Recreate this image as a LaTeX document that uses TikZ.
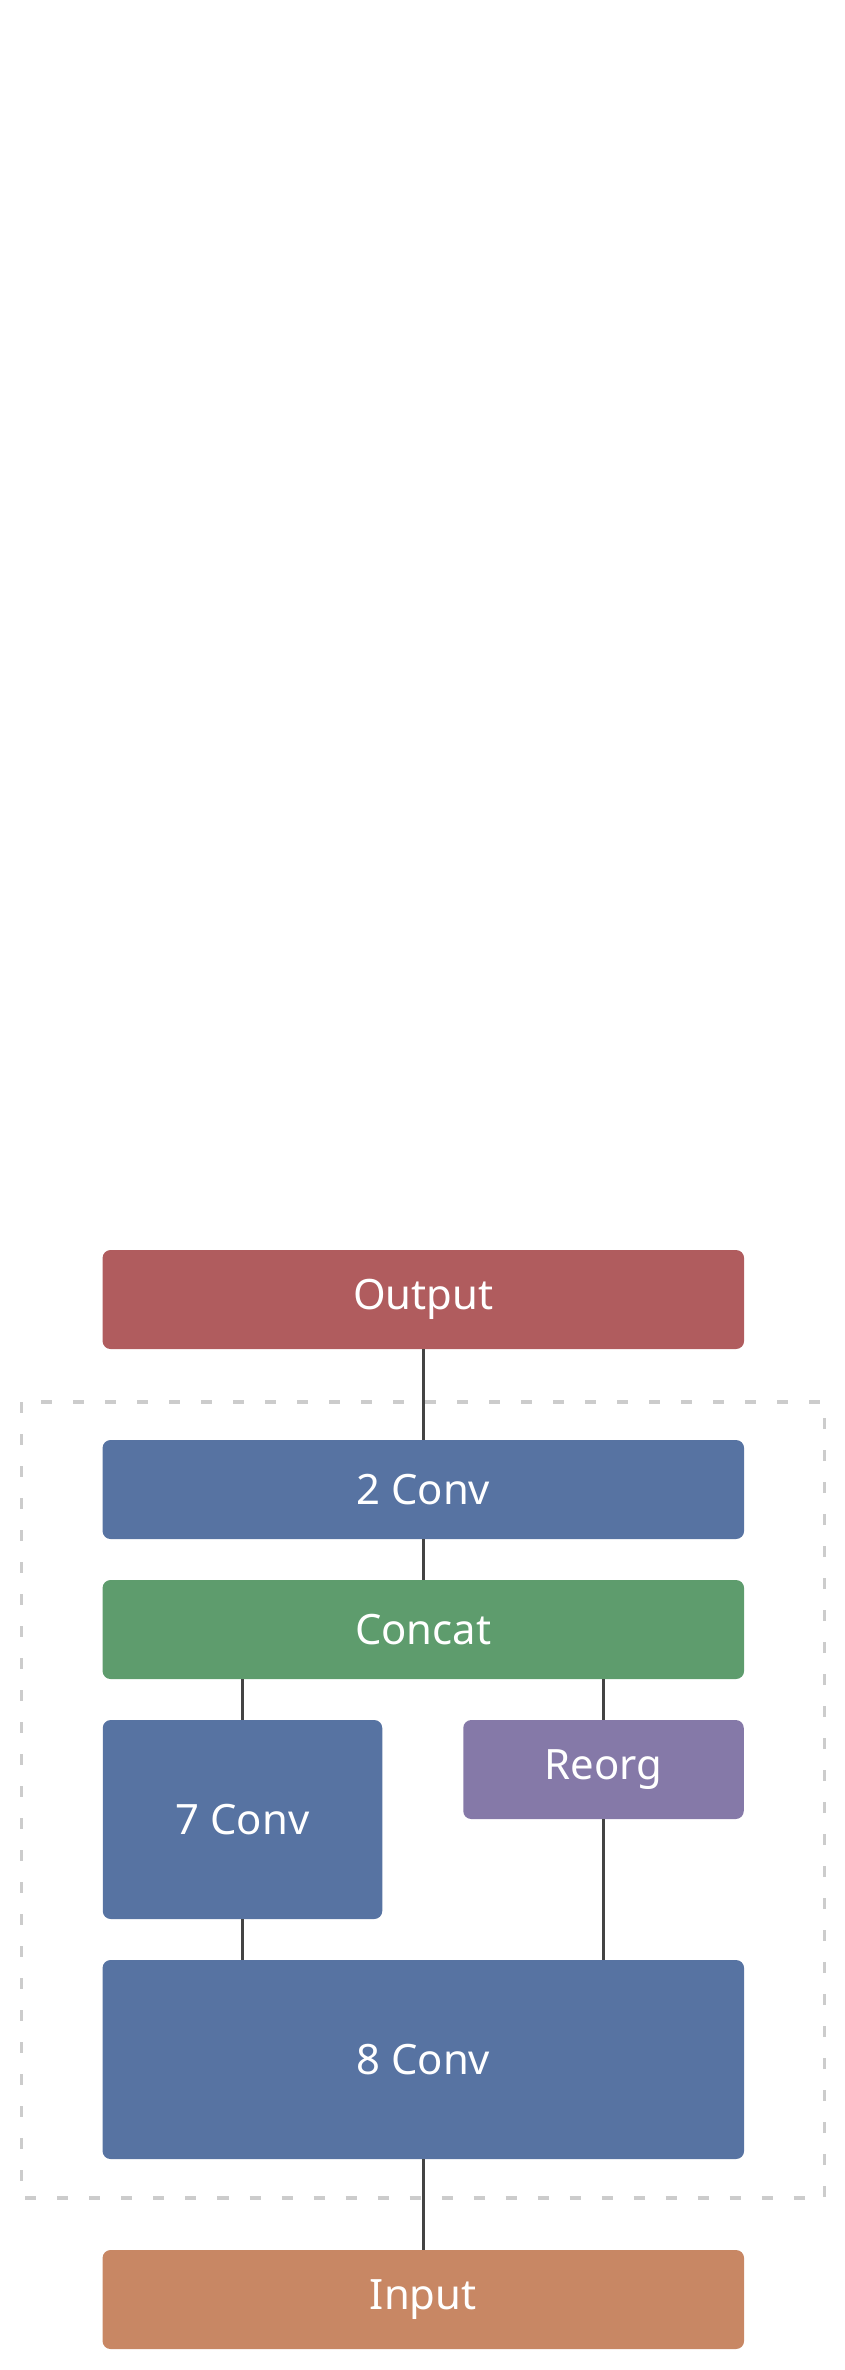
\documentclass[tikz,border=0pt]{standalone}
\usepackage{fontspec}
\setmainfont{Noto Sans}
\usepackage{tikz}
\usetikzlibrary{positioning}
\usepackage{xcolor}
\definecolor{outred}{HTML}{B05C5E}
\definecolor{convblue}{HTML}{5773A2}
\definecolor{catgreen}{HTML}{5E9C6D}
\definecolor{orgpurple}{HTML}{8579A8}
\definecolor{inorange}{HTML}{C88764}
\definecolor{linegray}{HTML}{444444}
\definecolor{boxgray}{HTML}{CCCCCC}
\tikzset{
  layer/.style={rectangle, rounded corners=0.16cm, text=white, inner sep=0pt,
    minimum width=12.83cm, minimum height=1.98cm,
    font=\fontsize{23.8}{28}\selectfont},
  link/.style={draw=linegray, line width=1.7pt}
}
\begin{document}
\begin{tikzpicture}
            \useasboundingbox (0,0) rectangle (16.88,-47.4);
            \draw[boxgray, line width=1.9pt, dash pattern=on 0.22cm off 0.42cm] (0.43,-28.04) rectangle (16.49,-43.96);
            \node[layer, fill=outred](out) at (8.466,-25.99){Output};
            \node[layer, fill=convblue](c2) at (8.466,-29.79){2 Conv};
            \node[layer, fill=catgreen](cat) at (8.466,-32.59){Concat};
            \node[layer, fill=convblue, minimum width=5.59cm, minimum height=3.98cm](c7) at (4.85,-36.39){7 Conv};
            \node[layer, fill=orgpurple, minimum width=5.61cm](reorg) at (12.07,-35.39){Reorg};
            \node[layer, fill=convblue, minimum height=3.98cm](c8) at (8.466,-41.19){8 Conv};
            \node[layer, fill=inorange](in) at (8.466,-45.99){Input};
            \path[link] (out) -- (c2);
            \path[link] (c2) -- (cat);
            \path[link] (c7.north) -- (c7.north |- cat.south);
            \path[link] (reorg.north) -- (reorg.north |- cat.south);
            \path[link] (c7.south) -- (c7.south |- c8.north);
            \path[link] (reorg.south) -- (reorg.south |- c8.north);
            \path[link] (c8) -- (in);
            \end{tikzpicture}
\end{document}
